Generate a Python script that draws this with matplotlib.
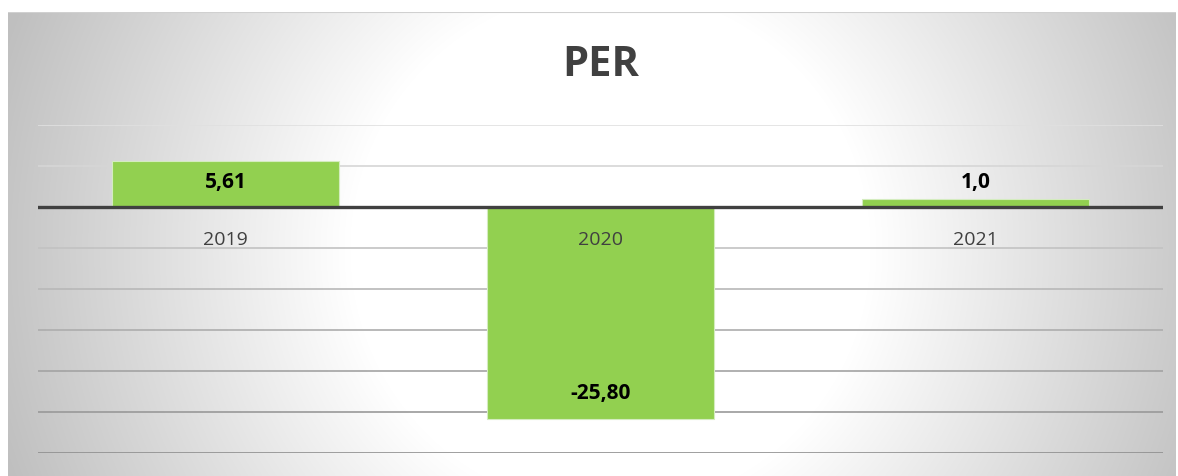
import matplotlib.pyplot as plt
from matplotlib.transforms import ScaledTranslation
import numpy as np

# data
years = ["2019", "2020", "2021"]
per_values = [5.61, -25.80, 1.0]
value_labels = ["5,61", "-25,80", "1,0"]
title = "PER"

W, H = 1178, 477
fig = plt.figure(figsize=(W / 100, H / 100), dpi=100)
fig.patch.set_facecolor("white")

# radial gradient background of the chart area
x0, x1, y0, y1 = 8, 1176, 13, 477
bg = fig.add_axes([x0 / W, 1 - y1 / H, (x1 - x0) / W, (y1 - y0) / H])
xx, yy = np.meshgrid(np.arange(x0, x1), np.arange(y0, y1))
d = np.sqrt((xx - 610) ** 2 + (yy - 250) ** 2)
t = np.clip((d - 260) / 380, 0, 1)
g = 1 - t * 0.25
bg.imshow(np.dstack([g, g, g]), aspect="auto", extent=(0, 1, 0, 1))
bg.axhline(1, color="#d0d0d0", lw=1.5)
bg.axis("off")

# main plot area
ax = fig.add_axes([38 / W, 1 - 454 / H, (1163 - 38) / W, (454 - 126) / H])
ax.patch.set_alpha(0)
ax.set_xlim(-0.5, 2.5)
ax.set_ylim(-30, 10)

grid_vals = np.arange(-30, 11, 5)
for v in grid_vals:
    if v == 0:
        continue
    frac = (10 - v) / 40
    c = 0.88 - 0.32 * frac
    ax.axhline(v, color=(c, c, c), lw=1.2, zorder=1)

x = np.arange(len(years))
ax.bar(x, per_values, width=0.605, color="#92D050",
       edgecolor="#d4ecbf", linewidth=0.8, zorder=2)
ax.axhline(0, color="#404040", lw=2.4, zorder=3)

year_shift = ax.transData + ScaledTranslation(0, -0.32, fig.dpi_scale_trans)
for i, (v, lab) in enumerate(zip(per_values, value_labels)):
    # inside end for tall bars, outside end for short ones (offsets in px)
    if abs(v) > 4:
        off = -21 if v > 0 else 26
    else:
        off = 17 if v >= 0 else -17
    ax.annotate(lab, (x[i], v), xytext=(0, off * 0.72), textcoords="offset points",
                ha="center", va="center", fontsize=15, fontweight="bold",
                family="Open Sans", color="black", zorder=4)
    ax.text(x[i], 0, years[i], transform=year_shift, ha="center", va="center",
            fontsize=14, family="Open Sans", color="#404040", zorder=4)

ax.set_xticks([])
ax.set_yticks([])
for s in ax.spines.values():
    s.set_visible(False)

fig.text(601 / W, 1 - 66 / H, title, ha="center", va="center", fontsize=30,
         fontweight="bold", family="Open Sans", color="#404040")

fig.savefig("out.png", dpi=100)
